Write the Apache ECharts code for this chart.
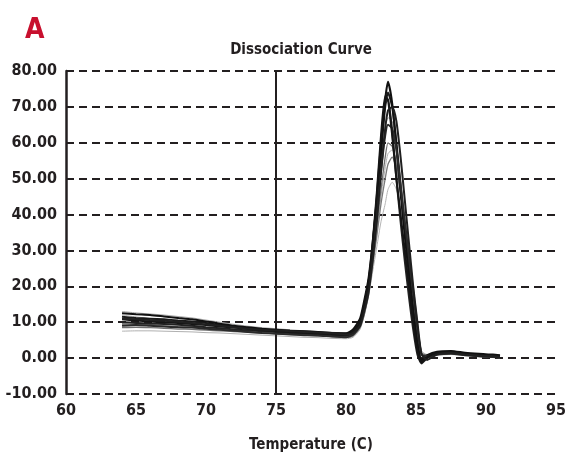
<!DOCTYPE html>
<html>
<head>
<meta charset="utf-8">
<script src="https://cdn.jsdelivr.net/npm/echarts@6/dist/echarts.min.js"></script>
<style>
  html, body { margin: 0; padding: 0; background: #fff; }
  #chart { width: 572px; height: 458px; }
</style>
</head>
<body>
<div id="chart"></div>
<script>
// Кривая диссоциации (melt curve): несколько лунок поверх друг друга.
const FONT = "'Liberation Sans Narrow', 'DejaVu Sans Condensed', sans-serif";

const temps = [64, 65, 66, 67, 68, 69, 70, 71, 72, 73, 74, 75, 76, 77, 78, 79, 80, 80.5,
  81, 81.3, 81.6, 81.9, 82.2, 82.5, 82.8, 83.0, 83.3, 83.6, 83.9, 84.2, 84.5, 84.8, 85.1, 85.4, 85.8,
  86.5, 87.5, 88.5, 89.5, 90.5, 91];

const xTicks = [60, 65, 70, 75, 80, 85, 90, 95];
const yTicks = [-10, 0, 10, 20, 30, 40, 50, 60, 70, 80];
const markerTemp = 75;

// светлые кривые (рисуются первыми)
const light1 = [12.0, 11.5, 11.0, 10.6, 10.2, 9.9, 9.5, 9.1, 8.7, 8.3, 8.0, 7.7, 7.5, 7.3, 7.1, 6.9, 6.7, 7.2,
  9, 12, 17, 24, 31, 38, 43, 47, 49, 47, 42, 35, 27, 18, 9, 2, 1,
  1.6, 1.8, 1.3, 1.0, 0.8, 0.6];
const light2 = [13.0, 12.6, 12.3, 12.0, 11.6, 11.2, 10.6, 10.0, 9.4, 8.9, 8.5, 8.2, 7.9, 7.6, 7.4, 7.2, 7.0, 7.5,
  10, 14, 20, 29, 41, 54, 64, 67, 66, 60, 50, 40, 30, 19, 9, 1, 0.8,
  1.5, 1.8, 1.4, 1.1, 0.9, 0.7];
const light3 = [7.5, 7.6, 7.6, 7.5, 7.4, 7.3, 7.1, 7.0, 6.8, 6.6, 6.4, 6.2, 6.0, 5.8, 5.7, 5.5, 5.4, 5.8,
  8, 12, 17, 25, 35, 45, 53, 57, 58, 54, 46, 37, 27, 17, 8, 1, 0.2,
  0.8, 1.0, 0.7, 0.4, 0.2, 0.1];

// серые
const grey1 = [8.5, 8.6, 8.5, 8.3, 8.1, 8.0, 7.8, 7.6, 7.4, 7.2, 7.0, 6.8, 6.6, 6.4, 6.2, 6.0, 5.8, 6.2,
  8.5, 12, 18, 27, 37, 47, 56, 60, 59, 54, 46, 37, 28, 19, 9, 1, 0.5,
  1.2, 1.4, 1.0, 0.7, 0.5, 0.4];
const grey2 = [9.5, 9.4, 9.2, 9.0, 8.8, 8.6, 8.3, 8.0, 7.7, 7.4, 7.1, 6.9, 6.7, 6.5, 6.4, 6.2, 6.0, 6.6,
  9, 13, 18, 26, 34, 43, 50, 54, 56, 53, 46, 38, 29, 20, 10, 1.5, 0.8,
  1.5, 1.7, 1.2, 0.9, 0.7, 0.5];

// тёмные
const dark1 = [11.5, 11.2, 11.0, 10.8, 10.5, 10.2, 9.8, 9.2, 8.8, 8.4, 8.0, 7.8, 7.6, 7.5, 7.3, 7.0, 6.8, 7.5,
  10, 15, 21, 30, 42, 57, 70, 74, 70, 60, 48, 36, 25, 14, 5, -1, 0.5,
  1.5, 1.8, 1.2, 1.0, 0.8, 0.6];
const dark2 = [10.0, 9.8, 9.6, 9.5, 9.3, 9.0, 8.6, 8.3, 8.0, 7.7, 7.5, 7.3, 7.0, 6.8, 6.6, 6.4, 6.2, 7.0,
  9.5, 14, 20, 31, 45, 60, 71, 72, 63, 50, 38, 27, 17, 8, 1, -1.5, 0,
  1.2, 1.5, 1.0, 0.6, 0.4, 0.3];
const dark3 = [12.5, 12.2, 12.0, 11.6, 11.2, 10.8, 10.2, 9.6, 9.0, 8.6, 8.2, 7.9, 7.6, 7.4, 7.2, 7.0, 6.9, 8.0,
  11, 16, 22, 32, 44, 58, 72, 77, 71, 59, 46, 34, 23, 13, 4, -0.5, 0.8,
  1.8, 2.0, 1.5, 1.2, 1.0, 0.8];
const dark4 = [9.0, 9.2, 9.0, 8.8, 8.6, 8.5, 8.2, 7.9, 7.6, 7.3, 7.0, 6.8, 6.6, 6.4, 6.3, 6.0, 5.8, 6.5,
  9, 14, 20, 29, 40, 52, 62, 65, 64, 58, 48, 38, 28, 18, 8, 1, 0.5,
  1.0, 1.2, 0.8, 0.5, 0.3, 0.2];
const dark5 = [10.8, 10.5, 10.2, 10.0, 9.8, 9.5, 9.2, 8.8, 8.5, 8.1, 7.8, 7.5, 7.3, 7.1, 6.9, 6.7, 6.5, 7.2,
  10, 15, 21, 32, 46, 62, 73, 72, 62, 50, 40, 30, 20, 10, 2, -1.2, 0.3,
  1.4, 1.6, 1.1, 0.8, 0.6, 0.4];
const dark6 = [11.0, 10.8, 10.6, 10.4, 10.1, 9.8, 9.4, 9.0, 8.6, 8.2, 7.9, 7.7, 7.5, 7.3, 7.1, 6.9, 6.6, 7.0,
  9, 13, 18, 27, 38, 52, 64, 69, 70, 66, 56, 44, 32, 20, 10, 1, -0.5,
  1.0, 1.4, 1.0, 0.7, 0.5, 0.4];

const curves = [
  { data: light1, color: '#b5b5b5', width: 1 },
  { data: light2, color: '#a8a8a8', width: 1 },
  { data: light3, color: '#b0b0b0', width: 1 },
  { data: grey1, color: '#707070', width: 1.3 },
  { data: grey2, color: '#7a7a7a', width: 1.3 },
  { data: dark1, color: '#1a1a1a', width: 2 },
  { data: dark2, color: '#222222', width: 2 },
  { data: dark3, color: '#111111', width: 2 },
  { data: dark4, color: '#2a2a2a', width: 2 },
  { data: dark5, color: '#151515', width: 2 },
  { data: dark6, color: '#202020', width: 2 },
];

const axisText = { color: '#231f20', fontFamily: FONT, fontWeight: 'bold' };

const chart = echarts.init(document.getElementById('chart'), null, { renderer: 'canvas' });

chart.setOption({
  animation: false,
  backgroundColor: '#fff',
  title: [
    {
      text: 'A', left: 20, top: 12,
      textStyle: { color: '#c8102e', fontFamily: FONT, fontWeight: 'bold', fontSize: 28 },
    },
    {
      text: 'Dissociation Curve', left: 296, top: 38, textAlign: 'center',
      textStyle: { ...axisText, fontSize: 15 },
    },
  ],
  grid: { left: 66, right: 16, top: 71, bottom: 62 },
  xAxis: {
    type: 'value',
    min: xTicks[0], max: xTicks[xTicks.length - 1], interval: 5,
    name: 'Temperature (C)', nameLocation: 'middle', nameGap: 44,
    nameTextStyle: { ...axisText, fontSize: 15 },
    axisLine: { show: false },
    axisTick: { show: false },
    splitLine: { show: false },
    axisLabel: { ...axisText, fontSize: 16, margin: 9 },
  },
  yAxis: {
    type: 'value',
    min: yTicks[0], max: yTicks[yTicks.length - 1], interval: 10,
    axisLine: { show: true, lineStyle: { color: '#231f20', width: 2.5 } },
    axisTick: { show: false },
    splitLine: { show: true, lineStyle: { color: '#231f20', width: 2, type: [8, 5] } },
    axisLabel: { ...axisText, fontSize: 16, margin: 9, formatter: (v) => v.toFixed(2) },
  },
  series: curves.map((c, i) => ({
    type: 'line',
    data: temps.map((t, k) => [t, c.data[k]]),
    smooth: 0.2,
    showSymbol: false,
    lineStyle: { color: c.color, width: c.width },
    z: 2 + i,
    markLine: i === 0 ? {
      silent: true,
      symbol: 'none',
      label: { show: false },
      lineStyle: { color: '#231f20', width: 2, type: 'solid' },
      data: [{ xAxis: markerTemp }],
    } : undefined,
  })),
});
</script>
</body>
</html>
